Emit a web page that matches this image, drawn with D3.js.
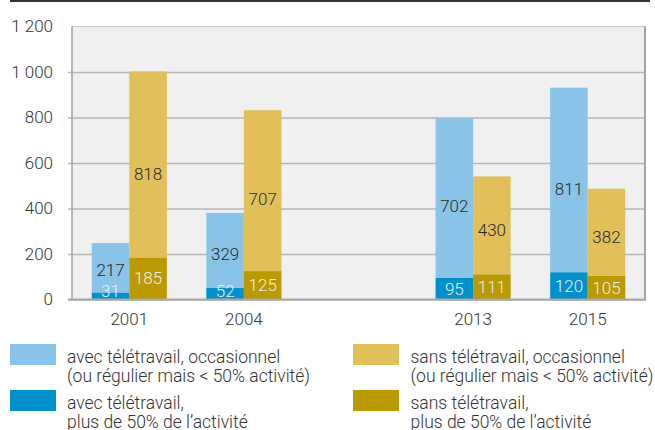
<!DOCTYPE html>
<html>
<head>
<meta charset="utf-8">
<script src="https://cdn.jsdelivr.net/npm/d3@7"></script>
<style>
  html, body { margin: 0; padding: 0; background: #fff; }
  svg { display: block; font-family: Roboto, "Noto Sans", sans-serif; font-weight: 300; }
</style>
</head>
<body>
<svg id="chart" width="655" height="430"></svg>
<script>
// ---- data ----
const categories = ["2001", "2004", "", "2013", "2015"]; // empty slot keeps the gap
const years = ["2001", "2004", "2013", "2015"];
const avecOccasionnel = [217, 329, 702, 811];
const avecPlus50 = [31, 52, 95, 120];
const sansOccasionnel = [818, 707, 430, 382];
const sansPlus50 = [185, 125, 111, 105];
const yTicks = [0, 200, 400, 600, 800, 1000, 1200];
const legendLabels = [
  ["avec télétravail, occasionnel", "(ou régulier mais < 50% activité)"],
  ["avec télétravail,", "plus de 50% de l’activité"],
  ["sans télétravail, occasionnel", "(ou régulier mais < 50% activité)"],
  ["sans télétravail,", "plus de 50% de l’activité"]
];
const colors = {
  avecOcc: "#89c3e7",
  avecPlus: "#0091cd",
  sansOcc: "#e1c059",
  sansPlus: "#bb9900"
};

// ---- layout ----
const svg = d3.select("#chart");
const plot = { left: 72, right: 645, top: 26.5, bottom: 299.5 };

const x = d3.scaleBand().domain(categories).range([plot.left, plot.right])
  .paddingInner(0.345).paddingOuter(0.345 / 2);
const xSub = d3.scaleBand().domain(["avec", "sans"]).range([0, x.bandwidth()]);
const y = d3.scaleLinear().domain([0, 1200]).range([plot.bottom, plot.top]);

const locale = d3.formatLocale({ decimal: ",", thousands: " ", grouping: [3], currency: ["", ""] });
const fmt = locale.format(",");

// top rule
svg.append("line").attr("x1", 10).attr("x2", 650).attr("y1", 1).attr("y2", 1)
  .attr("stroke", "#333").attr("stroke-width", 2);

// plot background
svg.append("rect").attr("x", plot.left).attr("y", plot.top)
  .attr("width", plot.right - plot.left).attr("height", plot.bottom - plot.top)
  .attr("fill", "#eff0ef").attr("stroke", "#c8c8c8").attr("stroke-width", 1);

// y axis with gridlines
const yAxis = svg.append("g").attr("transform", `translate(${plot.left},0)`)
  .call(d3.axisLeft(y).tickValues(yTicks).tickFormat(fmt)
    .tickSize(-(plot.right - plot.left)).tickPadding(19));
yAxis.select(".domain").remove();
yAxis.selectAll(".tick line").attr("stroke", "#b6b6b6").attr("stroke-width", 1.5).attr("x1", -4);
yAxis.selectAll(".tick text").attr("font-size", 17).attr("fill", "#333")
  .attr("font-family", "Roboto, sans-serif").attr("font-weight", 300);
yAxis.selectAll(".tick").filter(d => d === 1200).select("line").remove();

// frame lines
svg.append("line").attr("x1", plot.left).attr("x2", plot.left).attr("y1", plot.top).attr("y2", plot.bottom)
  .attr("stroke", "#a9a9a9").attr("stroke-width", 1.5);
svg.append("line").attr("x1", plot.right).attr("x2", plot.right).attr("y1", plot.top).attr("y2", plot.bottom + 1)
  .attr("stroke", "#a4a4a4").attr("stroke-width", 2);

// stacked bars
const groups = years.map((yr, i) => ({
  year: yr,
  stacks: [
    { key: "avec", segs: [
      { v: avecPlus50[i], base: 0, color: colors.avecPlus, bottom: true },
      { v: avecOccasionnel[i], base: avecPlus50[i], color: colors.avecOcc, bottom: false }
    ]},
    { key: "sans", segs: [
      { v: sansPlus50[i], base: 0, color: colors.sansPlus, bottom: true },
      { v: sansOccasionnel[i], base: sansPlus50[i], color: colors.sansOcc, bottom: false }
    ]}
  ]
}));

const g = svg.append("g");
groups.forEach(grp => {
  grp.stacks.forEach(st => {
    const bx = x(grp.year) + xSub(st.key);
    const bw = xSub.bandwidth();
    st.segs.forEach(s => {
      g.append("rect").attr("x", bx).attr("width", bw)
        .attr("y", y(s.base + s.v)).attr("height", y(s.base) - y(s.base + s.v))
        .attr("fill", s.color);
    });
  });
});
// labels
groups.forEach(grp => {
  grp.stacks.forEach(st => {
    const cx = x(grp.year) + xSub(st.key) + xSub.bandwidth() / 2;
    st.segs.forEach(s => {
      let cy = s.bottom ? y(s.base + s.v / 2) : y(s.base + s.v * 0.45);
      if (s.bottom) cy = Math.min(cy, 291);
      g.append("text").attr("x", cx).attr("y", cy)
        .attr("text-anchor", "middle").attr("dominant-baseline", "central")
        .attr("font-size", 17).attr("fill", s.bottom ? "#eeeeee" : "#2a2a2a")
        .text(s.v);
    });
  });
});

// bottom axis line
svg.append("line").attr("x1", plot.left - 4).attr("x2", plot.right + 1).attr("y1", plot.bottom).attr("y2", plot.bottom)
  .attr("stroke", "#a8a8a8").attr("stroke-width", 2);

// x axis labels
const xAxis = svg.append("g").attr("transform", `translate(0,${plot.bottom})`)
  .call(d3.axisBottom(x).tickSize(0).tickPadding(13).tickFormat(d => d));
xAxis.select(".domain").remove();
xAxis.selectAll(".tick text").attr("font-size", 17).attr("fill", "#333")
  .attr("font-family", "Roboto, sans-serif").attr("font-weight", 300);

// legend
const legendColors = [colors.avecOcc, colors.avecPlus, colors.sansOcc, colors.sansPlus];
const legendPos = [
  { sx: 10, tx: 67, y: 344 },
  { sx: 10, tx: 67, y: 390 },
  { sx: 353, tx: 410.5, y: 344 },
  { sx: 353, tx: 410.5, y: 390 }
];
legendLabels.forEach((lines, i) => {
  const p = legendPos[i];
  svg.append("rect").attr("x", p.sx).attr("y", p.y).attr("width", 46).attr("height", 21)
    .attr("fill", legendColors[i]);
  const t = svg.append("text").attr("x", p.tx).attr("y", p.y + 18.5)
    .attr("font-size", 17.5).attr("fill", "#333");
  lines.forEach((ln, j) => {
    t.append("tspan").attr("x", p.tx).attr("dy", j === 0 ? 0 : 19.5).text(ln);
  });
});
</script>
</body>
</html>
